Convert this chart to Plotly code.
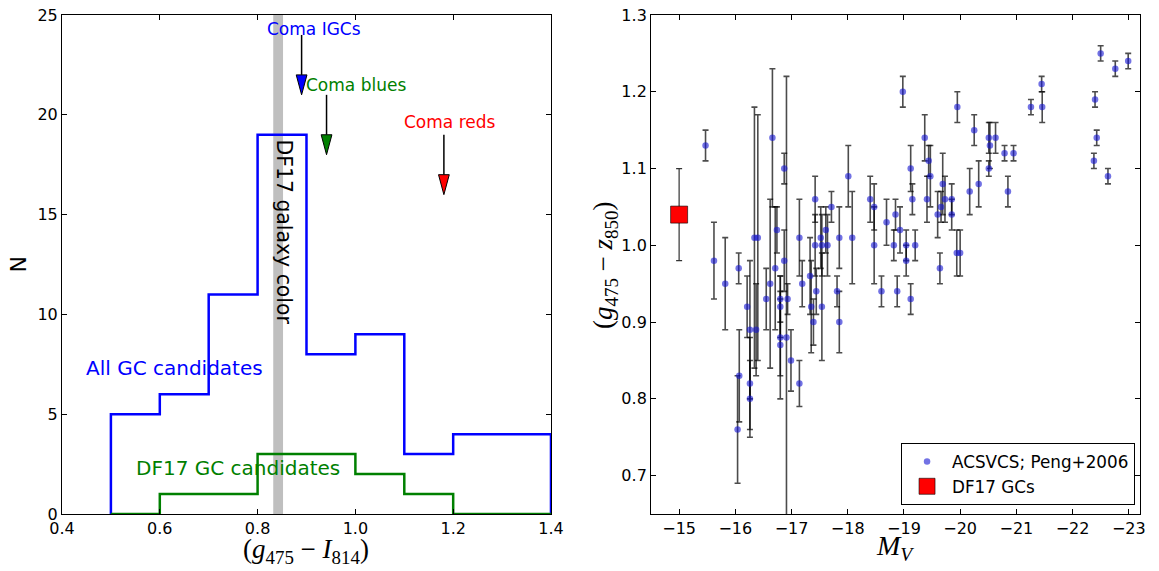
import plotly.graph_objects as go

# ---------------- Left panel data ----------------
bin_edges = [0.5, 0.6, 0.7, 0.8, 0.9, 1.0, 1.1, 1.2, 1.3, 1.4]
all_gc_counts = [5, 6, 11, 19, 8, 9, 3, 4, 4]
df17_gc_counts = [0, 1, 1, 3, 3, 2, 1, 0, 0]

galaxy_color_lo = 0.832
galaxy_color_hi = 0.852

arrow_labels = ["Coma IGCs", "Coma blues", "Coma reds"]
arrow_colors = ["#0000ff", "#008000", "#ff0000"]
arrow_x = [0.89, 0.941, 1.181]
arrow_top = [24.0, 21.0, 19.0]
arrow_tip = [21.0, 18.0, 16.0]
label_x = [0.915, 1.002, 1.193]
label_y = [24.3, 21.5, 19.65]

# ---------------- Right panel data ----------------
mv = [-15.47, -15.62, -15.82, -16.06, -16.04, -16.07, -16.21, -16.26, -16.26, -16.26,
      -16.34, -16.40, -16.37, -16.55, -16.62, -16.66, -16.71, -16.74, -16.80, -16.80,
      -16.80, -16.80, -16.87, -16.87, -16.93, -16.91, -16.99, -17.14, -17.14, -17.19,
      -17.33, -17.35, -17.39, -17.42, -17.42, -17.44, -17.52, -17.54, -17.54, -17.61,
      -17.64, -17.71, -17.85, -17.81, -17.85, -18.01, -18.08, -18.40, -18.47, -18.47,
      -18.60, -18.69, -18.82, -18.85, -18.88, -18.93, -18.98, -19.04, -19.04, -19.12,
      -19.15, -19.12, -19.20, -19.37, -19.44, -19.47, -19.41, -19.60, -19.66, -19.69,
      -19.64, -19.73, -19.85, -19.85, -19.95, -19.94, -20.00, -20.17, -20.25, -20.33,
      -20.51, -20.53, -20.51, -20.63, -20.79, -20.95, -20.85, -21.26, -21.45, -21.46,
      -22.38, -22.40, -22.43, -22.50, -22.63, -22.76, -22.99]
gz = [1.13, 0.98, 0.95, 0.97, 0.76, 0.83, 0.92, 0.89, 0.82, 0.80,
      1.01, 1.01, 0.89, 0.93, 0.95, 1.14, 0.97, 1.02, 0.93, 0.92,
      0.88, 0.87, 0.98, 1.10, 0.93, 0.88, 0.85, 1.01, 0.82, 0.95,
      0.96, 0.92, 0.90, 1.06, 1.00, 0.94, 1.01, 1.00, 0.92, 1.02,
      1.00, 1.05, 1.01, 0.94, 0.90, 1.09, 1.01, 1.06, 1.05, 1.00,
      0.94, 1.03, 1.00, 1.04, 0.94, 1.02, 1.20, 1.00, 0.98, 1.10,
      1.06, 0.93, 1.00, 1.14, 1.11, 1.09, 1.06, 1.04, 1.05, 1.08,
      0.97, 1.06, 1.06, 1.04, 1.18, 0.99, 0.99, 1.07, 1.15, 1.08,
      1.14, 1.13, 1.10, 1.14, 1.12, 1.12, 1.07, 1.18, 1.21, 1.18,
      1.11, 1.19, 1.14, 1.25, 1.09, 1.23, 1.24]
gz_err = [0.02, 0.05, 0.06, 0.02, 0.07, 0.06, 0.04, 0.09, 0.06, 0.05,
          0.17, 0.16, 0.06, 0.04, 0.11, 0.09, 0.08, 0.03, 0.03, 0.04,
          0.05, 0.07, 0.04, 0.02, 0.02, 0.34, 0.04, 0.05, 0.03, 0.03,
          0.05, 0.06, 0.03, 0.03, 0.04, 0.03, 0.04, 0.04, 0.07, 0.03,
          0.04, 0.02, 0.04, 0.02, 0.04, 0.04, 0.06, 0.03, 0.03, 0.05,
          0.02, 0.03, 0.02, 0.02, 0.02, 0.03, 0.02, 0.02, 0.02, 0.03,
          0.02, 0.02, 0.02, 0.03, 0.02, 0.04, 0.03, 0.03, 0.02, 0.04,
          0.02, 0.03, 0.02, 0.02, 0.02, 0.03, 0.03, 0.03, 0.02, 0.03,
          0.02, 0.03, 0.01, 0.02, 0.01, 0.01, 0.02, 0.01, 0.01, 0.02,
          0.01, 0.01, 0.01, 0.01, 0.01, 0.01, 0.01]

df17_mv = [-15.0]
df17_gz = [1.04]
df17_err = [0.06]

left_xticks = [0.4, 0.6, 0.8, 1.0, 1.2, 1.4]
left_yticks = [0, 5, 10, 15, 20, 25]
right_xticks = [-15, -16, -17, -18, -19, -20, -21, -22, -23]
right_yticks = [0.7, 0.8, 0.9, 1.0, 1.1, 1.2, 1.3]


def step_path(edges, counts):
    xs, ys = [edges[0]], [0]
    for i, c in enumerate(counts):
        xs += [edges[i], edges[i + 1]]
        ys += [c, c]
    xs.append(edges[-1])
    ys.append(0)
    return xs, ys


fig = go.Figure()

bx, by = step_path(bin_edges, all_gc_counts)
gx, gy = step_path(bin_edges, df17_gc_counts)
fig.add_trace(go.Scatter(x=bx, y=by, mode="lines", line=dict(color="#0000ff", width=2.5),
                         xaxis="x", yaxis="y", showlegend=False, hoverinfo="skip"))
fig.add_trace(go.Scatter(x=gx, y=gy, mode="lines", line=dict(color="#008000", width=2.5),
                         xaxis="x", yaxis="y", showlegend=False, hoverinfo="skip"))

shapes = []
shapes.append(dict(type="rect", xref="x", yref="paper", x0=galaxy_color_lo, x1=galaxy_color_hi,
                   y0=0, y1=1, fillcolor="rgba(128,128,128,0.5)", line=dict(width=0), layer="below"))

head_len = 1.0
head_half = 0.011
annotations = []
for lab, col, ax_, top, tip, lx, ly in zip(arrow_labels, arrow_colors, arrow_x, arrow_top,
                                           arrow_tip, label_x, label_y):
    shapes.append(dict(type="line", xref="x", yref="y", x0=ax_, x1=ax_, y0=top, y1=tip + head_len,
                       line=dict(color="black", width=1.5)))
    path = "M {a},{b} L {c},{b} L {d},{e} Z".format(a=ax_ - head_half, b=tip + head_len,
                                                     c=ax_ + head_half, d=ax_, e=tip)
    shapes.append(dict(type="path", xref="x", yref="y", path=path, fillcolor=col,
                       line=dict(color="black", width=1)))
    annotations.append(dict(x=lx, y=ly, xref="x", yref="y", text=lab, showarrow=False,
                            xanchor="center", yanchor="middle",
                            font=dict(family="DejaVu Sans", size=17, color=col)))

annotations.append(dict(x=0.631, y=7.33, xref="x", yref="y", text="All GC candidates",
                        showarrow=False, xanchor="center", yanchor="middle",
                        font=dict(family="DejaVu Sans", size=20, color="#0000ff")))
annotations.append(dict(x=0.760, y=2.31, xref="x", yref="y", text="DF17 GC candidates",
                        showarrow=False, xanchor="center", yanchor="middle",
                        font=dict(family="DejaVu Sans", size=20, color="#008000")))
annotations.append(dict(x=0.854, y=14.15, xref="x", yref="y", text="DF17 galaxy color",
                        showarrow=False, textangle=90, xanchor="center", yanchor="middle",
                        font=dict(family="DejaVu Sans", size=20.4, color="black")))

# axis titles
serif = "Liberation Serif"
annotations.append(dict(x=0.2263, y=-0.074, xref="paper", yref="paper",
                        text="(<i>g</i><sub>475</sub> − <i>I</i><sub>814</sub>)",
                        showarrow=False, xanchor="center", yanchor="middle",
                        font=dict(family=serif, size=27, color="black")))
annotations.append(dict(x=0.7727, y=-0.068, xref="paper", yref="paper",
                        text="<i>M</i><sub><i>V</i></sub>",
                        showarrow=False, xanchor="center", yanchor="middle",
                        font=dict(family=serif, size=28, color="black")))
annotations.append(dict(x=0.5037, y=0.499, xref="paper", yref="paper",
                        text="(<i>g</i><sub>475</sub> − <i>z</i><sub>850</sub>)",
                        showarrow=False, textangle=-90, xanchor="center", yanchor="middle",
                        font=dict(family=serif, size=27, color="black")))
annotations.append(dict(x=-0.0408, y=0.5, xref="paper", yref="paper", text="N",
                        showarrow=False, textangle=-90, xanchor="center", yanchor="middle",
                        font=dict(family="DejaVu Sans", size=22, color="black")))

# right panel traces
fig.add_trace(go.Scatter(x=mv, y=gz, mode="markers", name="ACSVCS; Peng+2006",
                         marker=dict(color="rgba(20,20,210,0.6)", size=6.5),
                         error_y=dict(type="data", array=gz_err, visible=True,
                                      color="rgba(0,0,0,0.7)", thickness=1.6, width=3),
                         xaxis="x2", yaxis="y2"))
fig.add_trace(go.Scatter(x=df17_mv, y=df17_gz, mode="markers", name="DF17 GCs",
                         marker=dict(color="#ff0000", size=17, symbol="square",
                                     line=dict(color="rgba(0,0,0,0.6)", width=1)),
                         error_y=dict(type="data", array=df17_err, visible=True,
                                      color="rgba(0,0,0,0.8)", thickness=1.2, width=3),
                         xaxis="x2", yaxis="y2"))

axis_common = dict(showline=True, linecolor="black", linewidth=1, mirror="ticks",
                   ticks="inside", ticklen=5, tickwidth=1, tickcolor="black",
                   showgrid=False, zeroline=False, automargin=False,
                   tickfont=dict(family="DejaVu Sans", size=16, color="black"))

fig.update_layout(
    width=1159, height=571,
    margin=dict(l=62, r=19, t=15, b=57, autoexpand=False),
    paper_bgcolor="white", plot_bgcolor="white",
    xaxis=dict(domain=[0, 0.4536], range=[0.4, 1.4], tickvals=left_xticks,
               tickformat=".1f", anchor="y", **axis_common),
    yaxis=dict(domain=[0, 1], range=[0, 25], tickvals=left_yticks, anchor="x", **axis_common),
    xaxis2=dict(domain=[0.5464, 1], range=[-14.5, -23.2], tickvals=right_xticks,
                anchor="y2", **axis_common),
    yaxis2=dict(domain=[0, 1], range=[0.65, 1.3], tickvals=right_yticks, tickformat=".1f",
                anchor="x2", **axis_common),
    shapes=shapes,
    annotations=annotations,
    showlegend=True,
    legend=dict(x=0.9954, y=0.018, xanchor="right", yanchor="bottom",
                bgcolor="white", bordercolor="black", borderwidth=1,
                font=dict(family="DejaVu Sans", size=16.8, color="black"),
                itemwidth=40, tracegroupgap=0),
)

# remove the default page margin so the figure sits at the window's top-left corner
fig.write_html("out.html", config={"displayModeBar": False},
               post_script="document.body.style.margin='0';")
